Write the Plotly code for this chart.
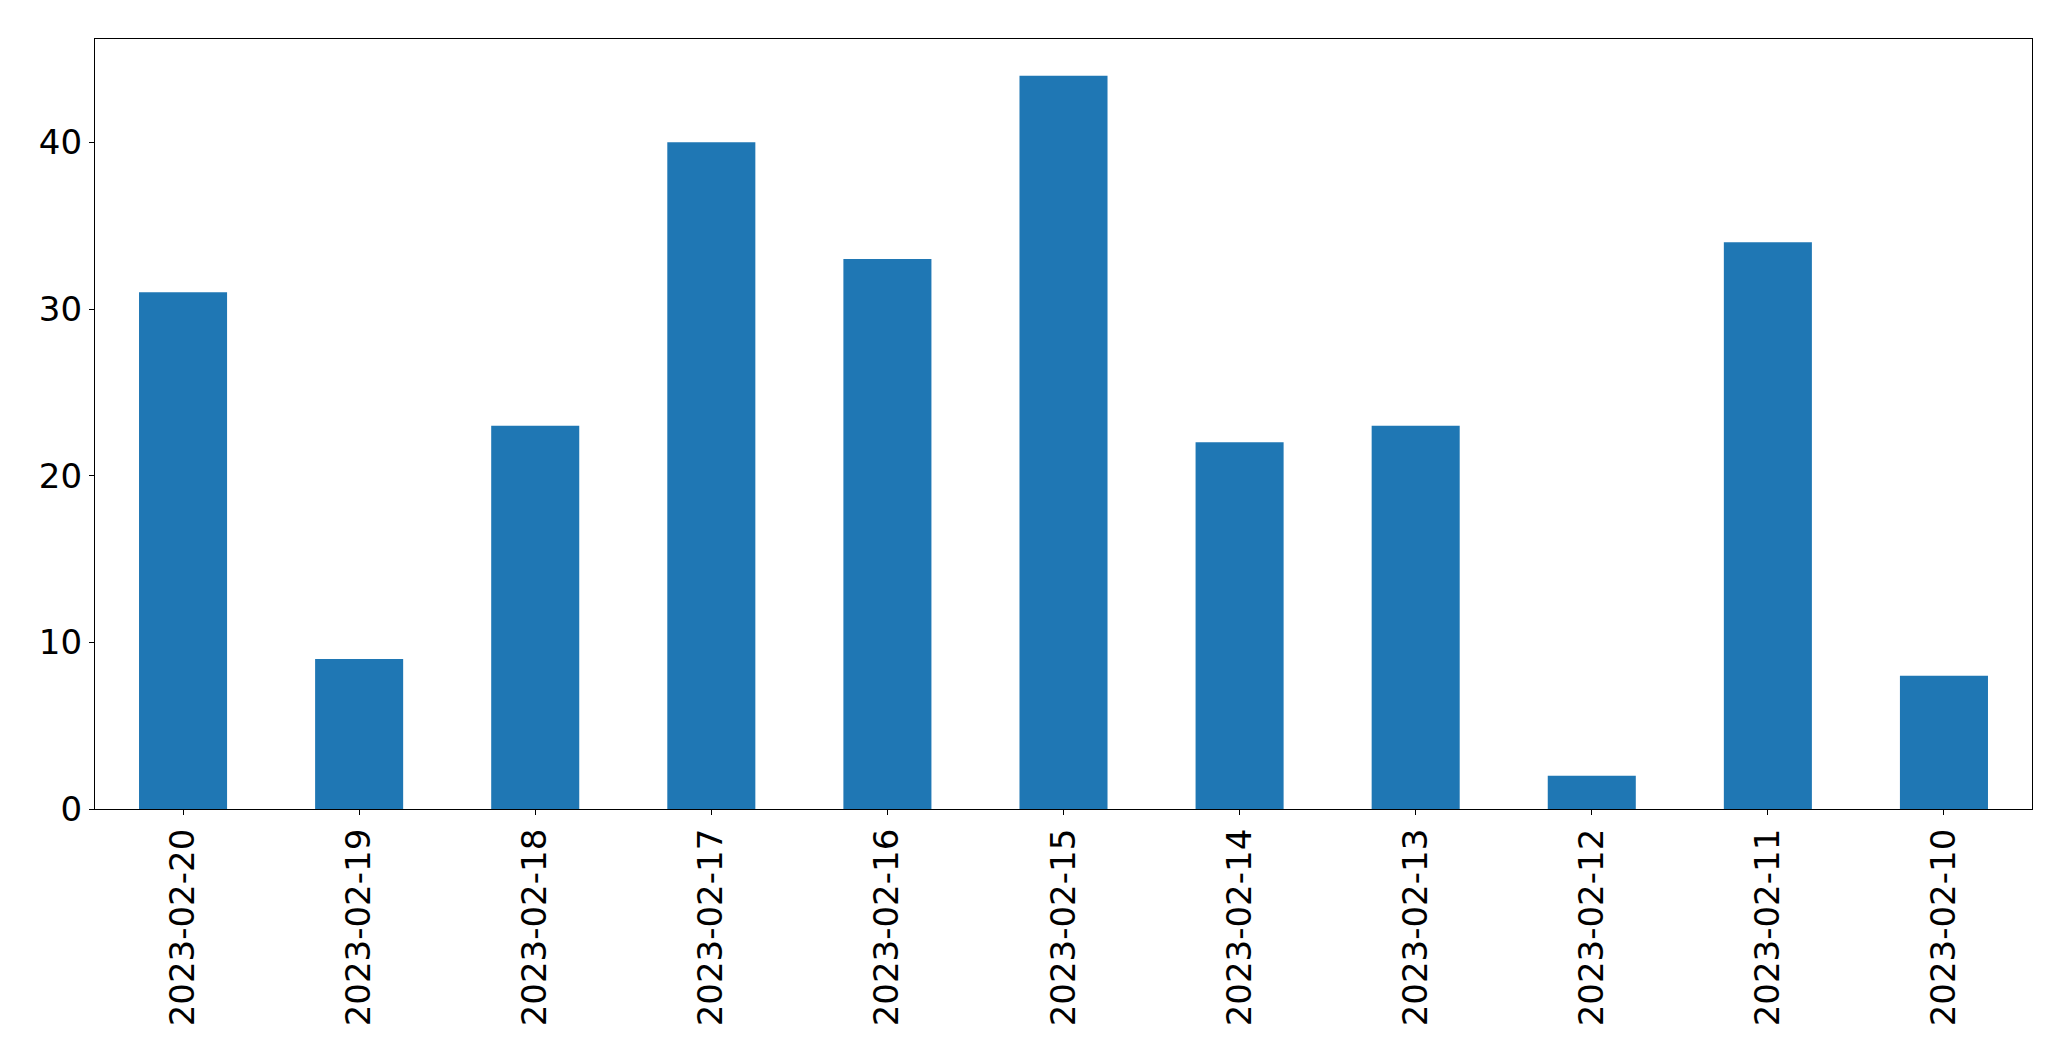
import plotly.graph_objects as go

dates = ["2023-02-20", "2023-02-19", "2023-02-18", "2023-02-17", "2023-02-16",
         "2023-02-15", "2023-02-14", "2023-02-13", "2023-02-12", "2023-02-11",
         "2023-02-10"]
counts = [31, 9, 23, 40, 33, 44, 22, 23, 2, 34, 8]
y_ticks = [0, 10, 20, 30, 40]

fig = go.Figure(go.Bar(x=dates, y=counts, marker=dict(color="#1f77b4", line=dict(width=0)),
                       width=0.5))

font = dict(family="DejaVu Sans", size=34, color="black")
# the page body adds an 8px margin, so the figure is 8px smaller and margins shifted
fig.update_layout(
    width=2063, height=1053,
    margin=dict(l=87, r=39, t=31, b=252, pad=0),
    paper_bgcolor="white", plot_bgcolor="white",
    showlegend=False,
    font=font,
)
fig.update_xaxes(
    type="category", range=[-0.5, len(dates) - 0.5],
    tickangle=-90, ticks="outside", ticklen=5, tickwidth=1.3, tickcolor="black",
    showline=True, linecolor="black", linewidth=1.3, mirror=True,
    showgrid=False, zeroline=False, tickfont=font,
)
fig.update_yaxes(
    range=[0, 46.2], tickvals=y_ticks, ticktext=[str(v) for v in y_ticks],
    ticks="outside", ticklen=5, tickwidth=1.3, tickcolor="black",
    showline=True, linecolor="black", linewidth=1.3, mirror=True,
    showgrid=False, zeroline=False, tickfont=font,
)
fig.write_html("out.html")
